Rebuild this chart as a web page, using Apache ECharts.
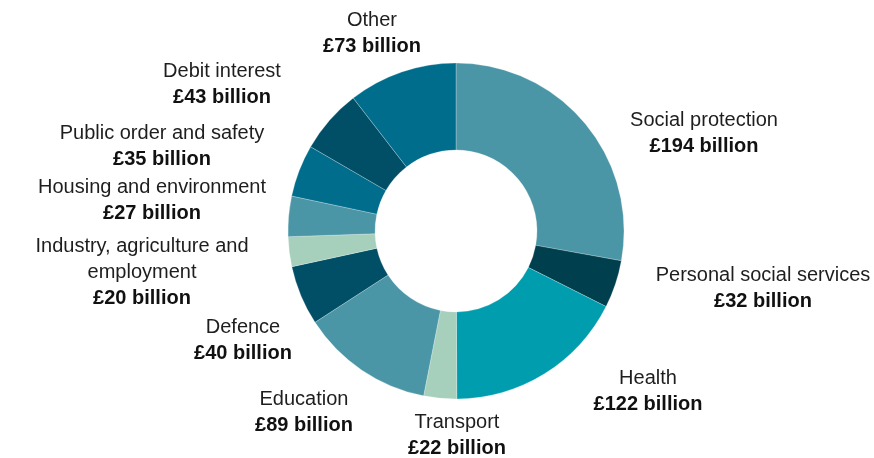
<!DOCTYPE html>
<html>
<head>
<meta charset="utf-8">
<script src="https://cdn.jsdelivr.net/npm/echarts@6/dist/echarts.min.js"></script>
<style>
html,body{margin:0;padding:0;background:#fff;}
#c{width:874px;height:458px;}
</style>
</head>
<body>
<div id="c"></div>
<script>
// ---- data ----
const categories = [
  'Social protection',
  'Personal social services',
  'Health',
  'Transport',
  'Education',
  'Defence',
  'Industry, agriculture and\nemployment',
  'Housing and environment',
  'Public order and safety',
  'Debit interest',
  'Other'
];
const values = [194, 32, 122, 22, 89, 40, 20, 27, 35, 43, 73];
const colors = ['#4a96a6', '#003f4e', '#009dae', '#a6cfbc', '#4a96a6', '#004f66',
                '#a6cfbc', '#4a96a6', '#006d8c', '#004f66', '#006d8c'];

// ---- layout (label anchor offsets from pie centre, px) ----
const CX = 456, CY = 231;
const labelOffsets = [
  [248, -98], [307, 57], [192, 160], [1, 204], [-152, 181], [-213, 109],
  [-314, 41], [-304, -31], [-294, -85], [-234, -147], [-84, -198]
];

const chart = echarts.init(document.getElementById('c'), null, {renderer: 'canvas'});
chart.setOption({
  backgroundColor: '#ffffff',
  animation: false,
  series: [{
    type: 'pie',
    center: [CX, CY],
    radius: [81, 168],
    startAngle: 90,
    clockwise: true,
    avoidLabelOverlap: false,
    itemStyle: {borderColor: 'rgba(255,255,255,0.5)', borderWidth: 0.5},
    label: {
      show: true,
      position: 'outside',
      formatter: p => '{n|' + p.name + '}\n{v|£' + p.value + ' billion}',
      rich: {
        n: {fontFamily: 'Liberation Sans, Arial, sans-serif', fontSize: 20, color: '#1e1e1e', lineHeight: 26, align: 'center'},
        v: {fontFamily: 'Liberation Sans, Arial, sans-serif', fontSize: 20, fontWeight: 'bold', color: '#111', lineHeight: 26, align: 'center'}
      }
    },
    labelLine: {show: false},
    labelLayout: function (params) {
      const o = labelOffsets[params.dataIndex];
      return {x: CX + o[0], y: CY + o[1], align: 'center', verticalAlign: 'middle'};
    },
    emphasis: {disabled: true},
    data: categories.map((c, i) => ({name: c, value: values[i], itemStyle: {color: colors[i]}}))
  }]
});
</script>
</body>
</html>
